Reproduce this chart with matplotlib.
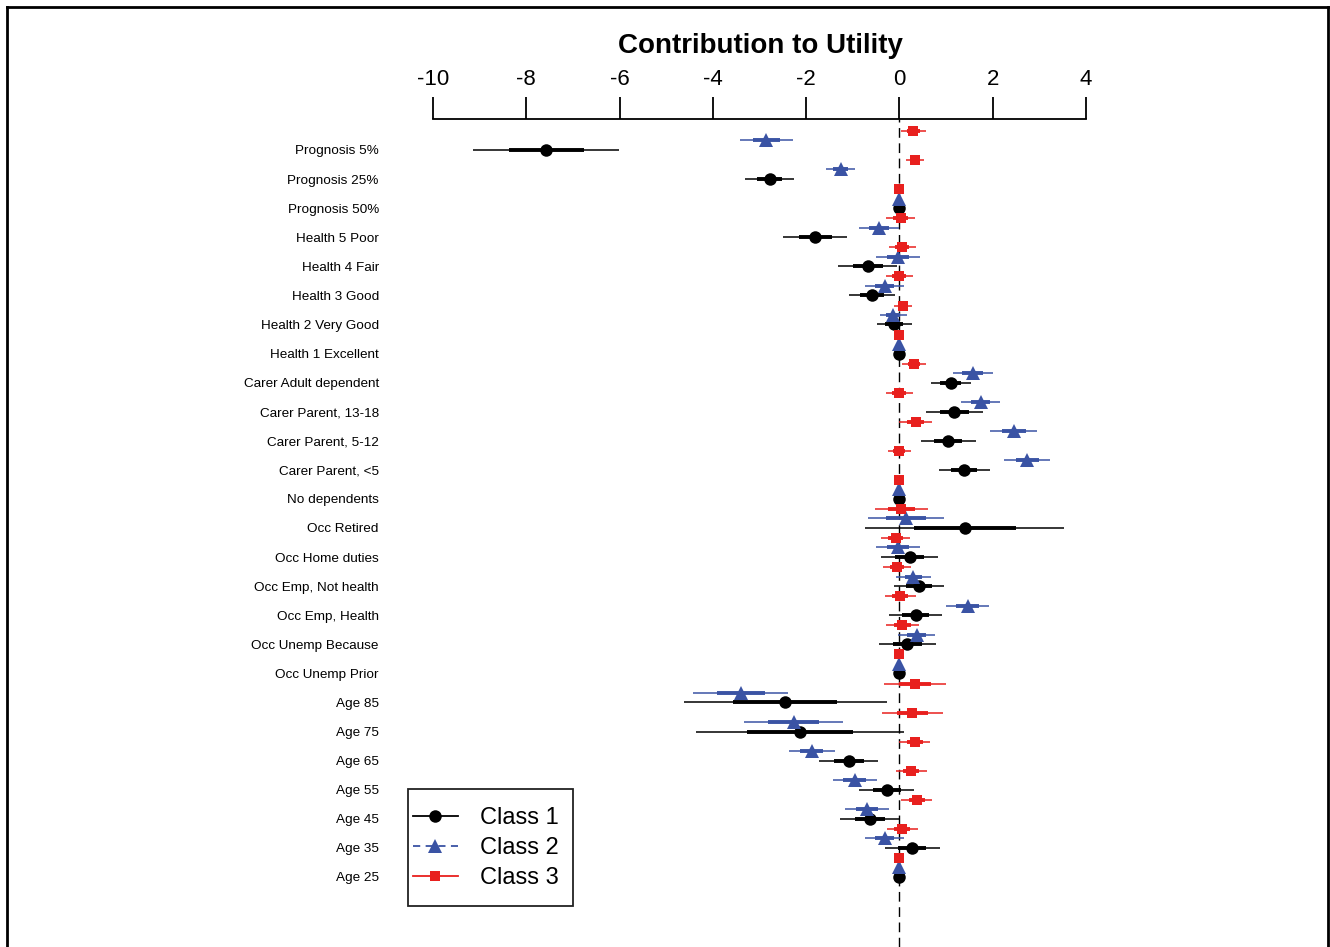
import matplotlib
matplotlib.use("Agg")
import matplotlib.pyplot as plt
from matplotlib.lines import Line2D
from matplotlib.patches import Rectangle
import numpy as np

plt.rcParams['font.family'] = ['Liberation Sans', 'DejaVu Sans']

labels = ["Prognosis 5%", "Prognosis 25%", "Prognosis 50%",
          "Health 5 Poor", "Health 4 Fair", "Health 3 Good",
          "Health 2 Very Good", "Health 1 Excellent",
          "Carer Adult dependent", "Carer Parent, 13-18", "Carer Parent, 5-12",
          "Carer Parent, <5", "No dependents",
          "Occ Retired", "Occ Home duties", "Occ Emp, Not health",
          "Occ Emp, Health", "Occ Unemp Because", "Occ Unemp Prior",
          "Age 85", "Age 75", "Age 65", "Age 55", "Age 45", "Age 35", "Age 25"]

class1_est = [-7.57, -2.78, 0, -1.80, -0.68, -0.59, -0.11, 0,
              1.10, 1.18, 1.05, 1.39, 0,
              1.40, 0.22, 0.42, 0.35, 0.17, 0,
              -2.45, -2.13, -1.09, -0.27, -0.64, 0.28, 0]
class1_se = [0.80, 0.27, 0, 0.35, 0.32, 0.25, 0.19, 0,
             0.22, 0.31, 0.30, 0.28, 0,
             1.09, 0.31, 0.27, 0.29, 0.31, 0,
             1.11, 1.14, 0.32, 0.30, 0.32, 0.30, 0]

class2_est = [-2.86, -1.26, 0, -0.44, -0.03, -0.32, -0.13, 0,
              1.57, 1.74, 2.45, 2.74, 0,
              0.14, -0.03, 0.30, 1.46, 0.37, 0,
              -3.40, -2.27, -1.88, -0.96, -0.69, -0.32, 0]
class2_se = [0.29, 0.16, 0, 0.22, 0.24, 0.21, 0.15, 0,
             0.22, 0.21, 0.26, 0.25, 0,
             0.42, 0.24, 0.19, 0.24, 0.20, 0,
             0.52, 0.54, 0.25, 0.24, 0.24, 0.21, 0]

class3_est = [0.30, 0.33, 0, 0.03, 0.06, 0.00, 0.07, 0,
              0.32, 0.00, 0.35, 0.00, 0,
              0.04, -0.08, -0.05, 0.02, 0.06, 0,
              0.33, 0.28, 0.33, 0.25, 0.37, 0.06, 0]
class3_se = [0.14, 0.10, 0, 0.16, 0.15, 0.15, 0.10, 0,
             0.13, 0.15, 0.18, 0.13, 0,
             0.29, 0.16, 0.15, 0.17, 0.18, 0,
             0.34, 0.33, 0.17, 0.17, 0.17, 0.17, 0]

class_names = ["Class 1", "Class 2", "Class 3"]
xticks = [-10, -8, -6, -4, -2, 0, 2, 4]

W, H = 1330, 947
fig = plt.figure(figsize=(W / 100, H / 100), dpi=100)
ax = fig.add_axes([433 / W, 0, (1086 - 433) / W, 1 - 119 / H])

black = "#000000"
blue = "#3A53A4"
red = "#E8201E"

series = [
    (class1_est, class1_se, black, 'o', 9, 0.0),
    (class2_est, class2_se, blue, '^', 10, -0.33),
    (class3_est, class3_se, red, 's', 7.5, -0.65),
]

rows = np.arange(len(labels))
for est, se, col, mk, ms, off in series:
    est = np.array(est)
    se = np.array(se)
    y = rows + off
    m = se > 0
    ax.hlines(y[m], est[m] - 1.96 * se[m], est[m] + 1.96 * se[m],
              color=col, lw=1.1, zorder=3)
    ax.hlines(y[m], est[m] - se[m], est[m] + se[m],
              color=col, lw=2.8, zorder=3)
    ax.plot(est, y, ls='none', marker=mk, ms=ms, color=col,
            markeredgewidth=0, zorder=4)

ax.axvline(0, color='black', ls=(0, (7, 4)), lw=1.0, zorder=2)

ax.set_xlim(-10, 4)
ax.set_ylim(27.41, -1.066)

for s in ['bottom', 'left', 'right']:
    ax.spines[s].set_visible(False)
ax.spines['top'].set_linewidth(1.3)
ax.xaxis.set_ticks_position('top')
ax.xaxis.set_label_position('top')
ax.set_xticks(xticks)
ax.set_xticklabels([str(t) for t in xticks])
ax.tick_params(axis='x', direction='out', length=16, width=1.3, pad=5,
               labelsize=16)
ax.set_yticks(rows)
ax.set_yticklabels(labels)
ax.tick_params(axis='y', length=0, pad=39, labelsize=9.7)
ax.patch.set_visible(False)

fig.text(760 / W, 1 - 46 / H, "Contribution to Utility", ha='center',
         va='center', fontsize=20, fontweight='bold')

# legend frame (drawn manually) and entries
fig.add_artist(Rectangle((408 / W, 1 - 906 / H), (573 - 408) / W,
                         (906 - 789) / H, transform=fig.transFigure,
                         facecolor='white', edgecolor='#222222', lw=1.3,
                         zorder=5))
handles = [
    Line2D([], [], color=black, lw=1.3, marker='o', ms=9, markeredgewidth=0),
    Line2D([], [], color=blue, lw=1.3, ls=(0, (4, 3)), marker='^', ms=10,
           markeredgewidth=0),
    Line2D([], [], color=red, lw=1.3, marker='s', ms=7.5, markeredgewidth=0),
]
leg = fig.legend(handles, class_names, loc='center left',
                 bbox_to_anchor=(413 / W, 1 - 848 / H), borderaxespad=0,
                 borderpad=0, fontsize=17, frameon=False,
                 handlelength=1.9, handletextpad=0.95, labelspacing=0.33)
leg.set_zorder(6)

# outer border
lw_b = 2.0
fig.add_artist(Line2D([7 / W, 7 / W], [0, 1 - 7 / H], color='black', lw=lw_b,
                      transform=fig.transFigure))
fig.add_artist(Line2D([7 / W, 1328 / W], [1 - 7 / H, 1 - 7 / H], color='black',
                      lw=lw_b, transform=fig.transFigure))
fig.add_artist(Line2D([1328 / W, 1328 / W], [0, 1 - 7 / H], color='black',
                      lw=lw_b, transform=fig.transFigure))

fig.savefig("out.png", dpi=100)
